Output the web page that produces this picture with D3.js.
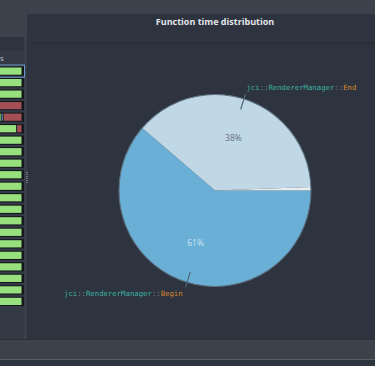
<!DOCTYPE html>
<html>
<head>
<meta charset="utf-8">
<script src="https://cdn.jsdelivr.net/npm/d3@7"></script>
<style>
  body { margin: 0; background: #2d333e; }
  svg { display: block; }
</style>
</head>
<body>
<svg id="canvas"></svg>
<script>
// Pie data: function name parts and share of time (%)
const fnNames = ["jci::RendererManager::Begin", "jci::RendererManager::End", "other"];
const fnShares = [61.3, 38.1, 0.6];
const sliceColors = ["#6aafd6", "#c0d8e6", "#e6eef3"];
const pctLabels = ["61%", "38%", ""];

// left side list: each row is segments of [fraction, kind]
const listRows = [
  [[1, "g"]], [[1, "g"]], [[1, "g"]], [[1, "r"]],
  [[0.15, "g"], [0.08, "b"], [0.77, "r"]],
  [[0.78, "g"], [0.22, "r"]],
  [[1, "g"]], [[1, "g"]], [[1, "g"]], [[1, "g"]], [[1, "g"]],
  [[1, "g"]], [[1, "g"]], [[1, "g"]], [[1, "g"]], [[1, "g"]],
  [[1, "g"]], [[1, "g"]], [[1, "g"]], [[1, "g"]], [[1, "g"]]
];
const kindColor = { g: "#98e07e", r: "#a44f55", b: "#6aa7d8" };

const W = 375, H = 366;
const svg = d3.select("#canvas").attr("width", W).attr("height", H);

// window chrome
svg.append("rect").attr("width", W).attr("height", 14).attr("fill", "#3b424c");
svg.append("rect").attr("y", 14).attr("width", 27).attr("height", 325).attr("fill", "#343a45");
svg.append("rect").attr("x", 0).attr("y", 14).attr("width", 27).attr("height", 23).attr("fill", "#3b424c");
svg.append("rect").attr("x", -4).attr("y", 37).attr("width", 29).attr("height", 14).attr("rx", 3)
   .attr("fill", "#2e343f");
svg.append("rect").attr("x", 24).attr("y", 37).attr("width", 3).attr("height", 302).attr("fill", "#393f4a");
svg.append("rect").attr("x", 27).attr("y", 14).attr("width", W - 27).attr("height", 325).attr("fill", "#2d333f");
svg.append("line").attr("x1", 33).attr("x2", W).attr("y1", 43.5).attr("y2", 43.5)
   .attr("stroke", "#272d37").attr("stroke-width", 1.5);
// splitter grip
for (let i = 0; i < 6; i++) {
  svg.append("rect").attr("x", 26).attr("y", 172 + i * 2).attr("width", 2).attr("height", 1).attr("fill", "#6a727c");
}
svg.append("text").attr("x", 0).attr("y", 61).attr("fill", "#b8bec6")
   .attr("font-family", "Open Sans, sans-serif").attr("font-size", 8).text("s");

// bottom bar
svg.append("rect").attr("y", 339).attr("width", W).attr("height", 1).attr("fill", "#2a3038");
svg.append("rect").attr("y", 340).attr("width", W).attr("height", 19).attr("fill", "#3c4249");
svg.append("rect").attr("y", 359).attr("width", W).attr("height", 1).attr("fill", "#55605f");
svg.append("rect").attr("y", 360).attr("width", W).attr("height", 6).attr("fill", "#2e343d");

// list bars
const rowY = d3.scaleBand().domain(d3.range(listRows.length)).range([66.5, 306]).paddingInner(0.2);
const barX = d3.scaleLinear().domain([0, 1]).range([-2, 22.5]);
listRows.forEach((row, i) => {
  const g = svg.append("g").attr("transform", `translate(0,${rowY(i)})`);
  g.append("rect").attr("x", barX(0)).attr("width", barX(1) - barX(0) + 1.5).attr("height", rowY.bandwidth())
   .attr("fill", "#14181c");
  let acc = 0;
  row.forEach(([f, k]) => {
    g.append("rect").attr("x", barX(acc)).attr("y", 1).attr("width", barX(acc + f) - barX(acc) - 1)
     .attr("height", rowY.bandwidth() - 2).attr("fill", kindColor[k]);
    acc += f;
  });
  if (i === 0) {
    g.append("rect").attr("x", -3).attr("y", -1.5).attr("width", barX(1) + 5).attr("height", rowY.bandwidth() + 3)
     .attr("fill", "none").attr("stroke", "#6c9ad0").attr("stroke-width", 1);
  }
});

// title
svg.append("text").attr("x", 215).attr("y", 25).attr("text-anchor", "middle")
   .attr("fill", "#e4e6ea").attr("font-family", "Open Sans, sans-serif").attr("font-weight", "bold")
   .attr("font-size", 9).text("Function time distribution");

// pie
const cx = 215, cy = 190.5, r = 96;
const pie = d3.pie().sort(null).startAngle(Math.PI / 2).endAngle(Math.PI / 2 + 2 * Math.PI);
const arcs = pie(fnShares);
const arc = d3.arc().innerRadius(0).outerRadius(r);
const pg = svg.append("g").attr("transform", `translate(${cx},${cy})`);
pg.selectAll("path.slice").data(arcs).enter().append("path").attr("class", "slice")
  .attr("d", arc).attr("fill", (d, i) => sliceColors[i]);
pg.append("circle").attr("r", r).attr("fill", "none").attr("stroke", "#5d7080").attr("stroke-width", 1.1);

const labelArc = d3.arc().innerRadius(56).outerRadius(56);
pg.selectAll("text.pct").data(arcs).enter().append("text").attr("class", "pct")
  .attr("transform", d => `translate(${labelArc.centroid(d)})`)
  .attr("text-anchor", "middle").attr("dy", "0.35em")
  .attr("font-family", "Open Sans, sans-serif").attr("font-size", 8.5)
  .attr("fill", (d, i) => i === 0 ? "#cfe6f4" : "#636d78")
  .text((d, i) => pctLabels[i]);

// leader lines + names
[0, 1].forEach(i => {
  const d = arcs[i];
  const mid = (d.startAngle + d.endAngle) / 2 + (i === 0 ? -0.06 : -0.03);
  const p = rad => [rad * Math.sin(mid), -rad * Math.cos(mid)];
  const a = p(85), b = p(101);
  pg.append("line").attr("x1", a[0]).attr("y1", a[1]).attr("x2", b[0]).attr("y2", b[1])
    .attr("stroke", "#4e6877").attr("stroke-width", 1.2);
  const parts = fnNames[i].split("::");
  const t = pg.append("text")
    .attr("x", i === 0 ? b[0] - 3 : b[0] + 1)
    .attr("y", i === 0 ? b[1] + 8.5 : b[1] - 4)
    .attr("text-anchor", i === 0 ? "end" : "start")
    .attr("font-family", "DejaVu Sans Mono, monospace").attr("font-size", 7.3);
  parts.forEach((s, j) => {
    if (j > 0) t.append("tspan").attr("fill", "#7f8a92").text("::");
    t.append("tspan").attr("fill", j === parts.length - 1 ? "#d88a2c" : "#3eb2a2").text(s);
  });
});
</script>
</body>
</html>
